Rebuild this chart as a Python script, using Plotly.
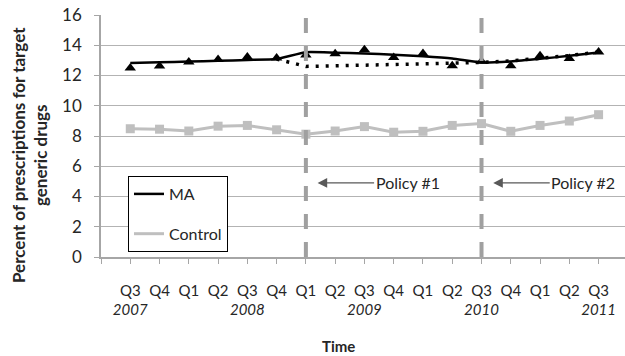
import plotly.graph_objects as go

quarters = ["Q3", "Q4", "Q1", "Q2", "Q3", "Q4", "Q1", "Q2", "Q3", "Q4", "Q1", "Q2", "Q3", "Q4", "Q1", "Q2", "Q3"]
years = ["2007", "", "", "", "2008", "", "", "", "2009", "", "", "", "2010", "", "", "", "2011"]

ma_actual = [12.5, 12.63, 12.89, 13.05, 13.22, 13.16, 13.35, 13.43, 13.71, 13.19, 13.45, 12.65, 12.95, 12.64, 13.3, 13.12, 13.56]
ma_fitted = [12.82, 12.87, 12.92, 12.97, 13.03, 13.09, 13.54, 13.51, 13.46, 13.38, 13.27, 13.12, 12.86, 12.93, 13.1, 13.3, 13.52]
ma_counterfactual = [None, None, None, None, None, 13.09, 12.6, 12.64, 12.68, 12.72, 12.76, 12.8, 12.86, 12.96, 13.13, 13.32, 13.55]
control = [8.48, 8.45, 8.33, 8.65, 8.7, 8.41, 8.12, 8.33, 8.62, 8.25, 8.31, 8.7, 8.82, 8.31, 8.7, 8.99, 9.41]

policy_idx = [6, 12]
policy_labels = ["Policy #1", "Policy #2"]

x = list(range(len(quarters)))
FONT = "Lato"
TXT = "#262626"

L, T, PW, PH = 101, 15, 524, 242

fig = go.Figure()

fig.add_trace(go.Scatter(x=x, y=control, mode="lines", name="Control", legendrank=2,
                         legendgroup="b", line=dict(color="#BFBFBF", width=3)))
fig.add_trace(go.Scatter(x=x, y=control, mode="markers", showlegend=False,
                         marker=dict(symbol="square", size=9, color="#BFBFBF")))
fig.add_trace(go.Scatter(x=x, y=ma_counterfactual, mode="lines", showlegend=False,
                         line=dict(color="black", width=3.5, dash="3px,7px")))
fig.add_trace(go.Scatter(x=x, y=ma_fitted, mode="lines", name="MA", legendrank=1,
                         legendgroup="a",
                         line=dict(color="black", width=2.5, shape="spline", smoothing=0.5)))
fig.add_trace(go.Scatter(x=x, y=ma_actual, mode="markers", showlegend=False,
                         marker=dict(symbol="triangle-up", size=10, color="black")))

for p in policy_idx:
    fig.add_shape(type="line", x0=p, x1=p, y0=0, y1=16, xref="x", yref="y",
                  line=dict(color="#A0A0A0", width=4, dash="15px,13px"), layer="above")

for p, lab in zip(policy_idx, policy_labels):
    fig.add_annotation(x=p + 0.4, y=4.9, xref="x", yref="y", ax=90, ay=0,
                       text=lab, showarrow=True, arrowhead=2, arrowsize=1.6,
                       arrowwidth=1.2, arrowcolor="#595959",
                       font=dict(family=FONT, size=16, color=TXT))

ticktext = [""] + [f"{q}<br><i>{y}</i>" if y else f"{q}<br> " for q, y in zip(quarters, years)]

fig.update_layout(
    width=625, height=356,
    margin=dict(l=L, r=625 - L - PW, t=T, b=356 - T - PH),
    plot_bgcolor="white", paper_bgcolor="white",
    font=dict(family=FONT, size=15, color=TXT),
    showlegend=True,
    legend=dict(x=27 / PW, y=(257 - 176) / PH, xanchor="left", yanchor="top",
                bordercolor="black", borderwidth=1, bgcolor="white",
                font=dict(family=FONT, size=16, color=TXT),
                tracegroupgap=16, traceorder="grouped"),
    xaxis=dict(range=[-1, -1 + PW / 29.27], tickmode="array", tickvals=[-1] + x, ticktext=ticktext,
               showgrid=False, zeroline=False, showline=True, linecolor="#A6A6A6", linewidth=1.5,
               ticks="outside", ticklen=5, tickcolor="#A6A6A6", tickwidth=1,
               tickangle=0, ticklabelstandoff=14,
               tickfont=dict(family=FONT, size=15, color=TXT)),
    yaxis=dict(range=[0, 16], tickvals=list(range(0, 17, 2)),
               showgrid=True, gridcolor="#B3B3B3", gridwidth=1.3, zeroline=False,
               showline=True, linecolor="#A6A6A6", linewidth=1.5,
               ticks="outside", ticklen=5, tickcolor="#A6A6A6",
               ticklabelstandoff=9,
               tickfont=dict(family=FONT, size=17, color=TXT)),
)

fig.add_annotation(text="<b>Percent of prescriptions for target<br>generic drugs</b>",
                   xref="paper", yref="paper", x=(29 - L) / PW, y=(257 - 155) / PH,
                   xanchor="center", yanchor="middle",
                   textangle=-90, showarrow=False,
                   font=dict(family=FONT, size=17, color=TXT))
fig.add_annotation(text="<b>Time</b>", xref="paper", yref="paper",
                   x=(338 - L) / PW, y=-(346 - 257) / PH, xanchor="center", yanchor="middle",
                   showarrow=False, font=dict(family=FONT, size=15, color=TXT))

fig.write_html("out.html", config={"displayModeBar": False},
               post_script="document.body.style.margin='0';")
